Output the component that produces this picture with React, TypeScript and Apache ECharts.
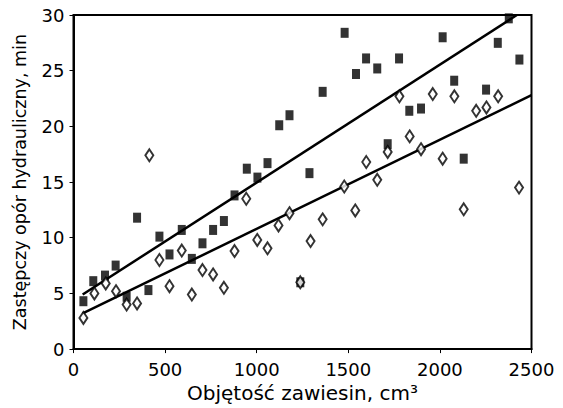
import React, { useEffect, useRef } from "react";
import * as echarts from "echarts";

const xTicks = [0, 500, 1000, 1500, 2000, 2500];
const yTicks = [0, 5, 10, 15, 20, 25, 30];

const squaresX = [54, 108, 172, 230, 290, 347, 409, 469, 524, 591, 646, 704, 762, 821, 879, 946, 1004, 1059, 1123, 1179, 1238, 1288, 1360, 1480, 1542, 1597, 1658, 1715, 1777, 1833, 1897, 2015, 2078, 2130, 2252, 2316, 2376, 2434];
const squaresY = [4.3, 6.1, 6.6, 7.5, 4.7, 11.8, 5.3, 10.1, 8.5, 10.7, 8.1, 9.5, 10.7, 11.5, 13.8, 16.2, 15.4, 16.7, 20.1, 21.0, 6.0, 15.8, 23.1, 28.4, 24.7, 26.1, 25.2, 18.4, 26.1, 21.4, 21.6, 28.0, 24.1, 17.1, 23.3, 27.5, 29.7, 26.0];

const diamondsX = [54, 114, 176, 232, 290, 347, 414, 469, 524, 591, 646, 704, 762, 821, 879, 943, 1003, 1059, 1119, 1179, 1238, 1294, 1360, 1478, 1538, 1598, 1658, 1715, 1779, 1835, 1897, 1961, 2015, 2079, 2130, 2198, 2254, 2318, 2432];
const diamondsY = [2.8, 5.0, 5.9, 5.2, 4.0, 4.1, 17.4, 8.0, 5.65, 8.85, 4.9, 7.1, 6.7, 5.5, 8.8, 13.5, 9.8, 9.05, 11.1, 12.2, 6.0, 9.7, 11.65, 14.6, 12.45, 16.8, 15.2, 17.7, 22.7, 19.1, 17.95, 22.9, 17.1, 22.7, 12.55, 21.4, 21.7, 22.7, 14.5];

const trendSquaresX = [50, 2420];
const trendSquaresY = [4.9, 30];
const trendDiamondsX = [50, 2500];
const trendDiamondsY = [3.2, 22.8];

const zip = (xs: number[], ys: number[]) => xs.map((x, i) => [x, ys[i]]);

export default function App() {
  const ref = useRef<HTMLDivElement>(null);
  useEffect(() => {
    if (!ref.current) return;
    const chart = echarts.init(ref.current, null, { renderer: "svg" });
    const font = "'DejaVu Sans', sans-serif";
    chart.setOption({
      animation: false,
      backgroundColor: "#fff",
      grid: {
        left: 73.5,
        right: 31.5,
        top: 15,
        bottom: 55,
        show: true,
        borderColor: "#000",
        borderWidth: 2,
      },
      xAxis: {
        type: "value",
        min: xTicks[0],
        max: xTicks[xTicks.length - 1],
        interval: 500,
        name: "Objętość zawiesin, cm³",
        nameLocation: "middle",
        nameGap: 28,
        nameTextStyle: { color: "#000", fontSize: 20, fontFamily: font },
        axisLine: { show: true, lineStyle: { color: "#000", width: 2 } },
        axisTick: { show: true, inside: false, length: 4, lineStyle: { color: "#000" } },
        axisLabel: { color: "#000", fontSize: 18, fontFamily: font, margin: 11, formatter: (v: number) => String(v) },
        splitLine: { show: false },
      },
      yAxis: {
        type: "value",
        min: yTicks[0],
        max: yTicks[yTicks.length - 1],
        interval: 5,
        name: "Zastępczy opór hydrauliczny, min",
        nameLocation: "middle",
        nameGap: 45,
        nameTextStyle: { color: "#000", fontSize: 17.5, fontFamily: font },
        axisLine: { show: true, lineStyle: { color: "#000", width: 2 } },
        axisTick: { show: true, inside: false, length: 4, lineStyle: { color: "#000" } },
        axisLabel: { color: "#000", fontSize: 18, fontFamily: font, margin: 9, formatter: (v: number) => String(v) },
        splitLine: { show: false },
      },
      series: [
        {
          type: "line",
          data: zip(trendSquaresX, trendSquaresY),
          showSymbol: false,
          lineStyle: { color: "#000", width: 2.5 },
          z: 1,
        },
        {
          type: "line",
          data: zip(trendDiamondsX, trendDiamondsY),
          showSymbol: false,
          lineStyle: { color: "#000", width: 2.5 },
          z: 1,
        },
        {
          type: "scatter",
          data: zip(squaresX, squaresY),
          symbol: "rect",
          symbolSize: [8, 10],
          itemStyle: { color: "#000" },
          z: 2,
        },
        {
          type: "scatter",
          data: zip(diamondsX, diamondsY),
          symbol: "diamond",
          symbolSize: [8, 12],
          itemStyle: { color: "#fff", borderColor: "#000", borderWidth: 2 },
          z: 3,
        },
      ],
    });
    return () => chart.dispose();
  }, []);
  return <div ref={ref} style={{ width: 563, height: 408, position: "absolute", left: 0, top: 0 }} />;
}
